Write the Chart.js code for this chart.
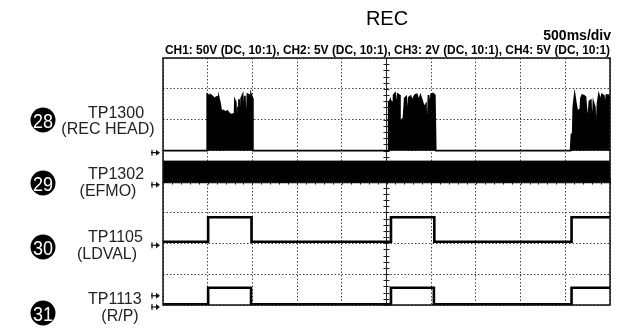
<!DOCTYPE html>
<html>
<head>
<meta charset="utf-8">
<title>REC</title>
<script src="https://cdn.jsdelivr.net/npm/chart.js@4.4.1/dist/chart.umd.min.js"></script>
<style>
  html, body { margin: 0; padding: 0; background: #fff; }
  #wrap { position: relative; width: 621px; height: 329px; }
</style>
</head>
<body>
<div id="wrap"><canvas id="scope" width="621" height="329"></canvas></div>
<script>
// screen is 10 x 8 divisions, values below are in divisions
const timeDivs = 10;
const levelDivs = 8;

// CH1 TP1300 (REC HEAD) - ground at 5 div, record bursts
const ch1Times = [
    0, 0.99, 0.99, 1.03, 1.05, 1.06, 1.10, 1.14, 1.16, 1.18, 1.21, 1.23, 1.25, 1.28, 1.30, 1.35, 1.40, 1.44, 1.48,
    1.52, 1.56, 1.58, 1.61, 1.63, 1.65, 1.68, 1.70, 1.72, 1.75, 1.78, 1.80, 1.83, 1.86, 1.89, 1.93, 1.95, 1.97,
    2.00, 2.01,
    5.04, 5.05, 5.08, 5.10, 5.12, 5.14, 5.16, 5.19, 5.22, 5.25, 5.28, 5.30, 5.34, 5.38, 5.41, 5.44, 5.47, 5.50,
    5.54, 5.57, 5.60, 5.64, 5.68, 5.72, 5.76, 5.80, 5.84, 5.88, 5.91, 5.94, 5.97, 6.00, 6.04, 6.08, 6.10,
    9.12, 9.14, 9.16, 9.18, 9.21, 9.24, 9.27, 9.30, 9.32, 9.35, 9.38, 9.42, 9.45, 9.48, 9.51, 9.54, 9.57, 9.60,
    9.63, 9.66, 9.69, 9.72, 9.75, 9.79, 9.82, 9.86, 9.89, 9.92, 9.96, 10
];
const ch1Levels = [
    5.0, 5.0, 6.83, 6.78, 5.6, 6.80, 6.76, 6.70, 5.2, 6.72, 6.74, 5.9, 6.70, 6.50, 6.28, 6.30, 6.24, 6.28, 6.20,
    6.16, 6.18, 5.05, 6.62, 6.55, 5.1, 6.40, 6.66, 5.3, 6.70, 6.80, 5.5, 6.78, 5.4, 6.83, 6.80, 5.6, 6.82,
    6.70, 5.0,
    5.0, 6.55, 6.63, 5.4, 6.60, 5.3, 6.80, 6.85, 6.20, 6.83, 6.80, 5.9, 5.99, 6.05, 6.70, 6.74, 5.8, 6.72,
    6.76, 6.55, 6.70, 6.80, 6.82, 6.60, 6.78, 6.60, 6.40, 6.50, 5.2, 6.80, 6.30, 6.83, 6.85, 6.80, 5.0,
    5.0, 5.55, 5.1, 6.40, 6.80, 6.50, 6.26, 6.30, 5.7, 6.70, 6.80, 6.78, 6.74, 6.2, 5.99, 6.60, 6.63, 5.5,
    6.55, 6.40, 5.3, 6.50, 6.80, 6.60, 6.82, 6.78, 6.30, 6.80, 6.80, 6.75
];
const ch1Ground = 5.0;

// CH2 TP1302 (EFMO) - dense signal, seen as a solid band
const efmoTimes = [0, 10];
const efmoTop = [4.66, 4.66];
const efmoBottom = [3.96, 3.96];

// CH3 TP1105 (LDVAL)
const ldvalTimes = [0, 1.01, 1.01, 1.98, 1.98, 5.10, 5.10, 6.07, 6.07, 9.14, 9.14, 10];
const ldvalLevels = [2.05, 2.05, 2.84, 2.84, 2.05, 2.05, 2.84, 2.84, 2.05, 2.05, 2.84, 2.84];

// CH4 TP1113 (R/P)
const rpTimes = [0, 1.01, 1.01, 1.97, 1.97, 5.10, 5.10, 6.06, 6.06, 9.14, 9.14, 10];
const rpLevels = [0.02, 0.02, 0.56, 0.56, 0.02, 0.02, 0.56, 0.56, 0.02, 0.02, 0.56, 0.56];

// left side labels
const channelNumbers = ['28', '29', '30', '31'];
const channelPoints = ['TP1300', 'TP1302', 'TP1105', 'TP1113'];
const channelSignals = ['(REC HEAD)', '(EFMO)', '(LDVAL)', '(R/P)'];
const groundMarks = [5.0, 3.96, 2.0, 0.0];
const triggerMark = 0.3;

const titleText = 'REC';
const sweepText = '500ms/div';
const settingsText = 'CH1: 50V (DC, 10:1), CH2: 5V (DC, 10:1), CH3: 2V (DC, 10:1), CH4: 5V (DC, 10:1)';

function toPoints(times, levels) {
    return times.map((t, i) => ({ x: t, y: levels[i] }));
}

// label placement (pixels)
const labelRows = [
    { circleY: 120, pointY: 118, signalY: 134, signalX: 108 },
    { circleY: 183, pointY: 179, signalY: 196, signalX: 108 },
    { circleY: 247, pointY: 242, signalY: 259, signalX: 107 },
    { circleY: 313, pointY: 304, signalY: 321, signalX: 120 }
];

function fitText(ctx, text, x, y, width) {
    const w = ctx.measureText(text).width;
    ctx.save();
    ctx.translate(x, y);
    ctx.scale(width / w, 1);
    ctx.fillText(text, 0, 0);
    ctx.restore();
}

function groundArrow(ctx, x, y) {
    ctx.save();
    ctx.strokeStyle = '#111';
    ctx.fillStyle = '#111';
    ctx.lineWidth = 1.2;
    ctx.beginPath();
    ctx.moveTo(x - 6, y);
    ctx.lineTo(x + 1, y);
    ctx.stroke();
    ctx.beginPath();
    ctx.moveTo(x + 3, y);
    ctx.lineTo(x - 1, y - 3);
    ctx.lineTo(x - 1, y + 3);
    ctx.closePath();
    ctx.fill();
    ctx.beginPath();
    ctx.moveTo(x - 5, y - 3);
    ctx.lineTo(x - 5, y + 3);
    ctx.stroke();
    ctx.restore();
}

const scopePlugin = {
    id: 'scopeScreen',
    beforeDatasetsDraw(chart) {
        const { ctx, chartArea, scales } = chart;
        const cx = scales.x.getPixelForValue(timeDivs / 2);
        const cy = scales.y.getPixelForValue(levelDivs / 2);
        ctx.save();
        ctx.strokeStyle = '#222';
        ctx.lineWidth = 1;
        ctx.beginPath();
        ctx.moveTo(cx, chartArea.top);
        ctx.lineTo(cx, chartArea.bottom);
        ctx.moveTo(chartArea.left, cy);
        ctx.lineTo(chartArea.right, cy);
        for (let v = 0; v <= levelDivs; v += 0.2) {
            const py = Math.round(scales.y.getPixelForValue(v)) + 0.5;
            ctx.moveTo(cx - 3, py);
            ctx.lineTo(cx + 3, py);
        }
        for (let t = 0; t <= timeDivs; t += 0.2) {
            const px = Math.round(scales.x.getPixelForValue(t)) + 0.5;
            ctx.moveTo(px, cy - 3);
            ctx.lineTo(px, cy + 3);
        }
        ctx.stroke();
        ctx.restore();
    },
    afterDatasetsDraw(chart) {
        const { ctx, chartArea } = chart;
        ctx.save();
        ctx.strokeStyle = '#111';
        ctx.lineWidth = 1.5;
        ctx.strokeRect(chartArea.left, chartArea.top, chartArea.right - chartArea.left, chartArea.bottom - chartArea.top);
        ctx.restore();
    },
    afterDraw(chart) {
        const { ctx, scales } = chart;
        ctx.save();
        ctx.fillStyle = '#000';
        ctx.textBaseline = 'alphabetic';

        ctx.font = '20px "Liberation Sans", Arial, sans-serif';
        ctx.textAlign = 'center';
        ctx.fillText(titleText, 387, 25);

        ctx.font = 'bold 14px "Liberation Sans", Arial, sans-serif';
        ctx.textAlign = 'right';
        ctx.fillText(sweepText, 611, 40);

        ctx.font = 'bold 13px "Liberation Sans", Arial, sans-serif';
        ctx.textAlign = 'left';
        fitText(ctx, settingsText, 165, 54, 445);

        labelRows.forEach((row, i) => {
            ctx.fillStyle = '#000';
            ctx.beginPath();
            ctx.arc(43, row.circleY, 12.5, 0, Math.PI * 2);
            ctx.fill();
            ctx.fillStyle = '#fff';
            ctx.font = '21px "Liberation Sans", Arial, sans-serif';
            ctx.textAlign = 'left';
            fitText(ctx, channelNumbers[i], 43 - 10, row.circleY + 7.5, 20);

            ctx.fillStyle = '#222';
            ctx.font = '16px "Liberation Sans", Arial, sans-serif';
            ctx.textAlign = 'left';
            ctx.fillText(channelPoints[i], 88, row.pointY);
            ctx.textAlign = 'center';
            ctx.fillText(channelSignals[i], row.signalX, row.signalY);
        });

        groundMarks.forEach(level => {
            groundArrow(ctx, 157, scales.y.getPixelForValue(level) + 2);
        });
        groundArrow(ctx, 157, scales.y.getPixelForValue(triggerMark));
        ctx.restore();
    }
};

const ctx = document.getElementById('scope').getContext('2d');
new Chart(ctx, {
    type: 'line',
    data: {
        datasets: [
            {
                label: 'TP1300',
                data: toPoints(ch1Times, ch1Levels),
                borderColor: '#000',
                backgroundColor: '#000',
                borderWidth: 1.8,
                fill: { value: ch1Ground }
            },
            {
                label: 'TP1302',
                data: toPoints(efmoTimes, efmoTop),
                borderColor: '#000',
                backgroundColor: '#000',
                borderWidth: 1,
                fill: '+1'
            },
            {
                label: 'TP1302 low',
                data: toPoints(efmoTimes, efmoBottom),
                borderColor: '#000',
                borderWidth: 1,
                fill: false
            },
            {
                label: 'TP1105',
                data: toPoints(ldvalTimes, ldvalLevels),
                borderColor: '#000',
                borderWidth: 2.6,
                fill: false
            },
            {
                label: 'TP1113',
                data: toPoints(rpTimes, rpLevels),
                borderColor: '#000',
                borderWidth: 2.6,
                fill: false
            }
        ]
    },
    options: {
        responsive: false,
        animation: false,
        layout: { padding: { left: 163, top: 58, right: 11, bottom: 24 } },
        elements: { point: { radius: 0 }, line: { tension: 0 } },
        plugins: { legend: { display: false }, tooltip: { enabled: false } },
        scales: {
            x: {
                type: 'linear',
                min: 0,
                max: timeDivs,
                ticks: { display: false, stepSize: 1 },
                grid: { color: '#444', lineWidth: 1, drawTicks: false },
                border: { display: false, dash: [1.5, 2] }
            },
            y: {
                type: 'linear',
                min: 0,
                max: levelDivs,
                ticks: { display: false, stepSize: 1 },
                grid: { color: '#444', lineWidth: 1, drawTicks: false },
                border: { display: false, dash: [1.5, 2] }
            }
        }
    },
    plugins: [scopePlugin]
});
</script>
</body>
</html>
